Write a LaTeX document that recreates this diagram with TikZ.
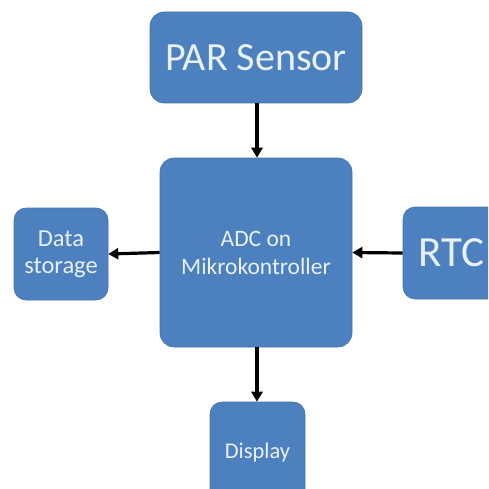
\documentclass[tikz,border=0pt]{standalone}
\usepackage{fontspec}
\setmainfont{Carlito}
\usetikzlibrary{arrows.meta}
\definecolor{boxblue}{RGB}{76,128,190}
\definecolor{boxtext}{RGB}{232,240,248}
\tikzset{
  blk/.style={fill=boxblue, draw=boxblue!90!black, line width=0.6pt, rounded corners=14pt,
    text=boxtext, align=center, inner sep=0pt},
  conn/.style={-{Triangle[length=10pt,width=11pt]}, line width=3.2pt, black}
}
\begin{document}
\begin{tikzpicture}[x=1pt,y=-1pt]
    \useasboundingbox (0,0) rectangle (488,489);
    \clip (0,0) rectangle (488,489);
    \node[blk, minimum width=212pt, minimum height=91pt, font=\fontsize{40}{42}\selectfont] (par) at (256,57.5) {PAR Sensor};
    \node[blk, minimum width=192pt, minimum height=189pt, font=\fontsize{23.5}{28}\selectfont] (adc) at (256,252.5) {ADC on\\Mikrokontroller};
    \node[blk, minimum width=94pt, minimum height=92pt, rounded corners=12pt, font=\fontsize{24.5}{27}\selectfont] (data) at (61,254) {Data\\storage};
    \node[blk, minimum width=110pt, minimum height=92pt, rounded corners=12pt, font=\fontsize{43}{45}\selectfont] (rtc) at (458,253) {\hspace*{6pt}RTC\phantom{x}};
    \node[blk, minimum width=95pt, minimum height=100pt, rounded corners=12pt, font=\fontsize{22.5}{26}\selectfont] (disp) at (257.5,452) {Display};

    \draw[conn] (par.south -| 257,0) -- (adc.north -| 257,0);
    \draw[conn] (adc.west) -- (data.east);
    \draw[conn] (rtc.west) -- (adc.east);
    \draw[conn] (adc.south -| 257,0) -- (disp.north -| 257,0);
\end{tikzpicture}
\end{document}
